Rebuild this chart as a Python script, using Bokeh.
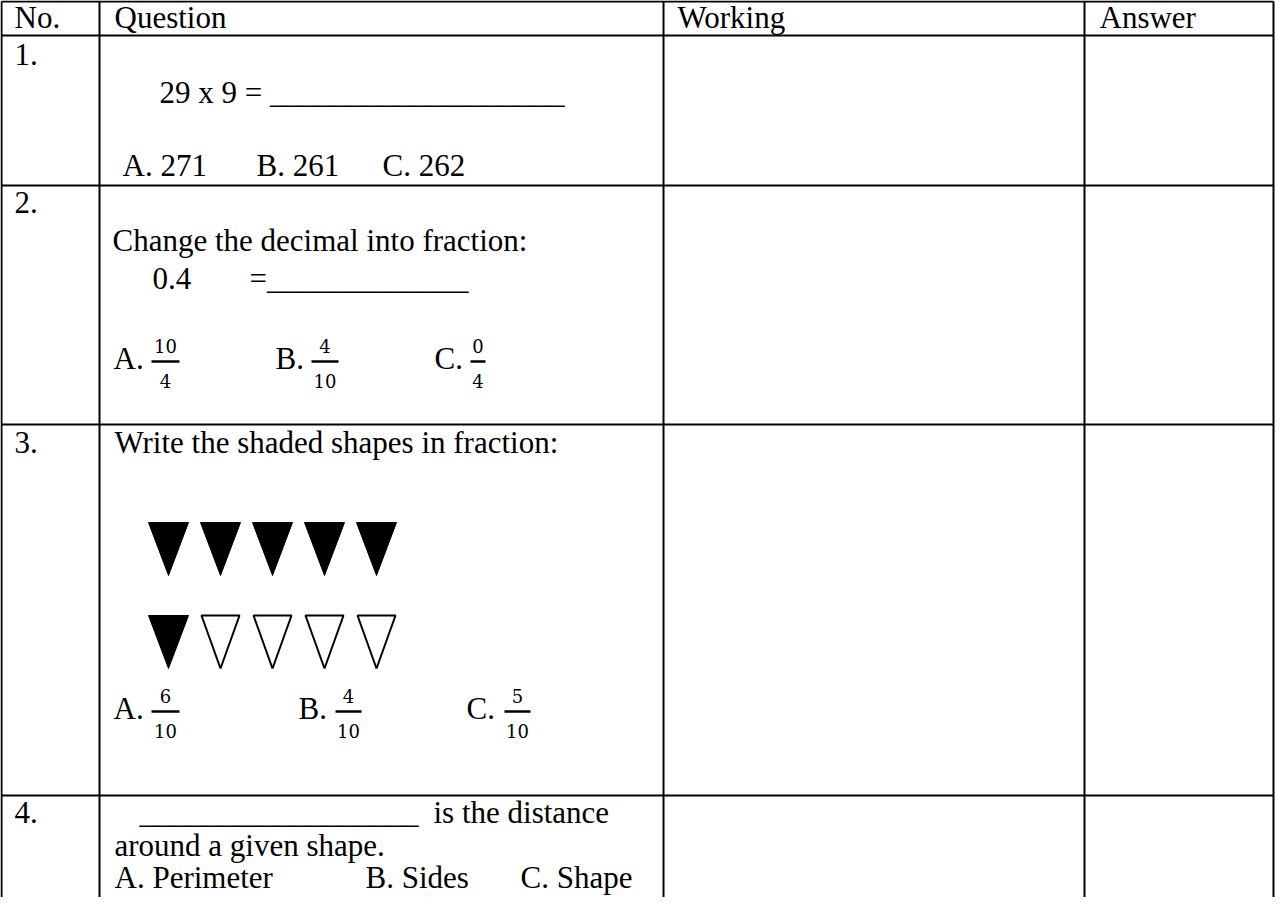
from bokeh.plotting import figure
from bokeh.models import Range1d
from bokeh.core.properties import value
from bokeh.embed import file_html
from bokeh.resources import INLINE

# ---------------- data ----------------
headers = ["No.", "Question", "Working", "Answer"]
q_numbers = ["1.", "2.", "3.", "4."]

q1_text = "29 x 9 = "
q1_blank = "_" * 19
q1_options = ["A. 271", "B. 261", "C. 262"]

q2_text = "Change the decimal into fraction:"
q2_decimal = "0.4"
q2_blank = "=" + "_" * 13
q2_labels = ["A.", "B.", "C."]
q2_num = ["10", "4", "0"]
q2_den = ["4", "10", "4"]

q3_text = "Write the shaded shapes in fraction:"
q3_shaded = [1, 1, 1, 1, 1, 1, 0, 0, 0, 0]
q3_labels = ["A.", "B.", "C."]
q3_num = ["6", "4", "5"]
q3_den = ["10", "10", "10"]

q4_blank = "_" * 18
q4_line1 = "is the distance"
q4_line2 = "around a given shape."
q4_options = ["A. Perimeter", "B. Sides", "C. Shape"]

# ---------------- layout (pixel coordinates of the page) ----------------
W, H = 1278, 897
col_x = [9, 107, 671, 1092, 1281]
row_y = [9, 43, 193, 432, 803]
bottom = 913

FONT = value("Liberation Serif")
FS = 31
MFONT = value("DejaVu Serif")
MFS = 18
K = 0.38  # baseline correction (fraction of font size)

p = figure(width=W, height=H, x_range=Range1d(8, 8 + W), y_range=Range1d(8 + H, 8),
           output_backend="svg", toolbar_location=None, min_border=0)
p.axis.visible = False
p.grid.visible = False
p.outline_line_color = None
p.background_fill_color = "white"
p.border_fill_color = "white"

# table grid
p.segment(x0=col_x, y0=[row_y[0]] * len(col_x), x1=col_x, y1=[bottom] * len(col_x),
          line_color="black", line_width=2)
p.segment(x0=[col_x[0]] * len(row_y), y0=row_y, x1=[col_x[-1]] * len(row_y), y1=row_y,
          line_color="black", line_width=2)


def put_text(xs, ys, ts, font=FONT, fs=FS, align="left"):
    p.text(x=xs, y=[y - K * fs for y in ys], text=ts, text_font=font,
           text_font_size=f"{fs}px", text_baseline="alphabetic",
           text_align=align, text_color="black")


texts_x, texts_y, texts = [], [], []
def add(x, y, t):
    texts_x.append(x); texts_y.append(y); texts.append(t)

# header
for x, t in zip([22, 122, 685, 1107], headers):
    add(x, 37, t)
# question numbers
for y, t in zip([74, 222, 462, 832], q_numbers):
    add(22, y, t)

# Q1
add(167, 112, q1_text + q1_blank)
for x, t in zip([130, 264, 390], q1_options):
    add(x, 185, t)

# Q2
add(120, 260, q2_text)
add(160, 298, q2_decimal)
add(257, 298, q2_blank)

# Q3
add(122, 462, q3_text)

# Q4
add(147, 832, q4_blank)
add(441, 832, q4_line1)
add(122, 865, q4_line2)
for x, t in zip([122, 373, 528], q4_options):
    add(x, 897, t)

put_text(texts_x, texts_y, texts)


# fractions (option label, bar, numerator, denominator)
def fractions(labels, nums, dens, label_x, bar_l, bar_r, base_y, bar_y, num_y, den_y):
    put_text(label_x, [base_y] * len(labels), labels)
    p.segment(x0=bar_l, y0=[bar_y] * len(bar_l), x1=bar_r, y1=[bar_y] * len(bar_r),
              line_color="black", line_width=2.5)
    cx = [(a + b) / 2 for a, b in zip(bar_l, bar_r)]
    put_text(cx, [num_y] * len(nums), nums, font=MFONT, fs=MFS, align="center")
    put_text(cx, [den_y] * len(dens), dens, font=MFONT, fs=MFS, align="center")


fractions(q2_labels, q2_num, q2_den, [121, 283, 442], [159, 319, 478], [187, 346, 493],
          378, 369, 360, 395)
fractions(q3_labels, q3_num, q3_den, [121, 306, 474], [159, 343, 512], [187, 369, 538],
          728, 719, 710, 745)

# shaded triangles: two rows of five
x0, dx, hw = 176, 52, 20
row_tops = [530, 623]
tri_h = 53
fill_xs, fill_ys, open_xs, open_ys = [], [], [], []
for i, s in enumerate(q3_shaded):
    r, c = divmod(i, 5)
    cx = x0 + c * dx
    top = row_tops[r]
    w = hw if s else hw - 1
    xs = [cx - w, cx + w, cx]
    ys = [top, top, top + tri_h]
    if s:
        fill_xs.append(xs); fill_ys.append(ys)
    else:
        open_xs.append(xs); open_ys.append(ys)
p.patches(xs=fill_xs, ys=fill_ys, fill_color="black", line_color="black", line_width=1)
p.patches(xs=open_xs, ys=open_ys, fill_color="white", line_color="black", line_width=2)

open("out.html", "w").write(file_html(p, INLINE))
